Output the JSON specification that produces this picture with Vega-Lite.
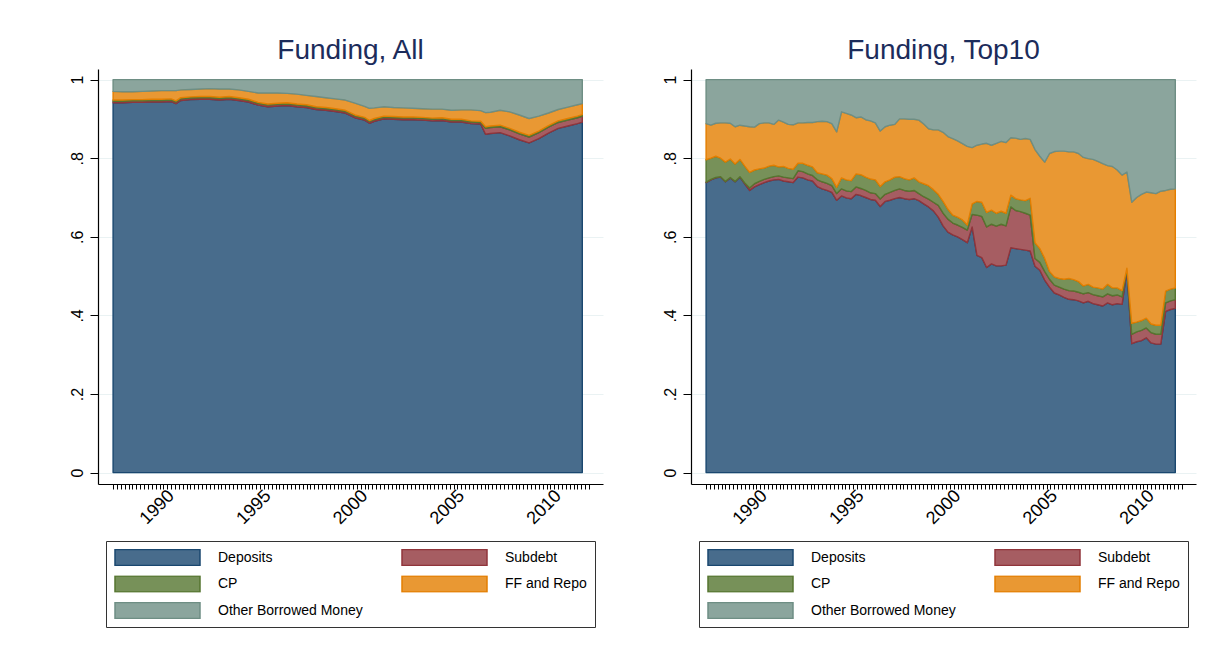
{
  "$schema": "https://vega.github.io/schema/vega-lite/v6.json",
  "background": "white",
  "padding": {"left": 69, "top": 37, "right": 20, "bottom": 10},
  "spacing": 59,
  "datasets": {
    "keys": [
      {"k": "d", "series": "Deposits", "rank": 1},
      {"k": "s", "series": "Subdebt", "rank": 2},
      {"k": "c", "series": "CP", "rank": 3},
      {"k": "f", "series": "FF and Repo", "rank": 4},
      {"k": "o", "series": "Other Borrowed Money", "rank": 5}
    ],
    "all": [
      {"t": 1987, "d": 0.941, "s": 0.004, "c": 0.003, "f": 0.022, "o": 0.030},
      {"t": 1987.5, "d": 0.941, "s": 0.004, "c": 0.003, "f": 0.021, "o": 0.031},
      {"t": 1988, "d": 0.942, "s": 0.004, "c": 0.003, "f": 0.020, "o": 0.031},
      {"t": 1988.5, "d": 0.942, "s": 0.004, "c": 0.003, "f": 0.021, "o": 0.030},
      {"t": 1989, "d": 0.943, "s": 0.004, "c": 0.003, "f": 0.021, "o": 0.029},
      {"t": 1989.5, "d": 0.943, "s": 0.004, "c": 0.003, "f": 0.022, "o": 0.028},
      {"t": 1990, "d": 0.944, "s": 0.004, "c": 0.003, "f": 0.021, "o": 0.028},
      {"t": 1990.25, "d": 0.939, "s": 0.004, "c": 0.003, "f": 0.026, "o": 0.028},
      {"t": 1990.5, "d": 0.947, "s": 0.004, "c": 0.003, "f": 0.020, "o": 0.026},
      {"t": 1991, "d": 0.949, "s": 0.004, "c": 0.003, "f": 0.019, "o": 0.025},
      {"t": 1991.5, "d": 0.950, "s": 0.004, "c": 0.003, "f": 0.019, "o": 0.024},
      {"t": 1992, "d": 0.950, "s": 0.004, "c": 0.003, "f": 0.020, "o": 0.023},
      {"t": 1992.5, "d": 0.948, "s": 0.004, "c": 0.003, "f": 0.021, "o": 0.024},
      {"t": 1993, "d": 0.950, "s": 0.004, "c": 0.003, "f": 0.019, "o": 0.024},
      {"t": 1993.5, "d": 0.947, "s": 0.004, "c": 0.003, "f": 0.020, "o": 0.026},
      {"t": 1994, "d": 0.943, "s": 0.004, "c": 0.003, "f": 0.020, "o": 0.030},
      {"t": 1994.5, "d": 0.935, "s": 0.004, "c": 0.003, "f": 0.024, "o": 0.034},
      {"t": 1995, "d": 0.931, "s": 0.004, "c": 0.003, "f": 0.028, "o": 0.034},
      {"t": 1995.5, "d": 0.933, "s": 0.004, "c": 0.003, "f": 0.026, "o": 0.034},
      {"t": 1996, "d": 0.934, "s": 0.004, "c": 0.003, "f": 0.024, "o": 0.035},
      {"t": 1996.5, "d": 0.931, "s": 0.004, "c": 0.003, "f": 0.025, "o": 0.037},
      {"t": 1997, "d": 0.929, "s": 0.004, "c": 0.003, "f": 0.024, "o": 0.040},
      {"t": 1997.5, "d": 0.924, "s": 0.004, "c": 0.003, "f": 0.026, "o": 0.043},
      {"t": 1998, "d": 0.922, "s": 0.004, "c": 0.003, "f": 0.025, "o": 0.046},
      {"t": 1998.5, "d": 0.919, "s": 0.004, "c": 0.003, "f": 0.025, "o": 0.049},
      {"t": 1999, "d": 0.915, "s": 0.004, "c": 0.003, "f": 0.026, "o": 0.052},
      {"t": 1999.5, "d": 0.903, "s": 0.004, "c": 0.003, "f": 0.030, "o": 0.060},
      {"t": 2000, "d": 0.897, "s": 0.004, "c": 0.003, "f": 0.028, "o": 0.068},
      {"t": 2000.25, "d": 0.889, "s": 0.004, "c": 0.003, "f": 0.031, "o": 0.073},
      {"t": 2000.5, "d": 0.894, "s": 0.004, "c": 0.003, "f": 0.027, "o": 0.072},
      {"t": 2001, "d": 0.900, "s": 0.004, "c": 0.003, "f": 0.024, "o": 0.069},
      {"t": 2001.5, "d": 0.899, "s": 0.004, "c": 0.003, "f": 0.023, "o": 0.071},
      {"t": 2002, "d": 0.898, "s": 0.004, "c": 0.003, "f": 0.023, "o": 0.072},
      {"t": 2002.5, "d": 0.898, "s": 0.004, "c": 0.003, "f": 0.022, "o": 0.073},
      {"t": 2003, "d": 0.897, "s": 0.004, "c": 0.003, "f": 0.022, "o": 0.074},
      {"t": 2003.5, "d": 0.895, "s": 0.004, "c": 0.003, "f": 0.023, "o": 0.075},
      {"t": 2004, "d": 0.896, "s": 0.004, "c": 0.003, "f": 0.022, "o": 0.075},
      {"t": 2004.5, "d": 0.892, "s": 0.004, "c": 0.003, "f": 0.023, "o": 0.078},
      {"t": 2005, "d": 0.892, "s": 0.004, "c": 0.003, "f": 0.024, "o": 0.077},
      {"t": 2005.5, "d": 0.888, "s": 0.004, "c": 0.003, "f": 0.028, "o": 0.077},
      {"t": 2006, "d": 0.887, "s": 0.004, "c": 0.003, "f": 0.027, "o": 0.079},
      {"t": 2006.25, "d": 0.861, "s": 0.015, "c": 0.004, "f": 0.036, "o": 0.084},
      {"t": 2006.5, "d": 0.863, "s": 0.015, "c": 0.004, "f": 0.035, "o": 0.083},
      {"t": 2007, "d": 0.865, "s": 0.015, "c": 0.004, "f": 0.038, "o": 0.078},
      {"t": 2007.5, "d": 0.857, "s": 0.015, "c": 0.004, "f": 0.042, "o": 0.082},
      {"t": 2008, "d": 0.847, "s": 0.015, "c": 0.004, "f": 0.044, "o": 0.090},
      {"t": 2008.5, "d": 0.839, "s": 0.015, "c": 0.004, "f": 0.043, "o": 0.099},
      {"t": 2009, "d": 0.850, "s": 0.015, "c": 0.004, "f": 0.038, "o": 0.093},
      {"t": 2009.5, "d": 0.864, "s": 0.015, "c": 0.004, "f": 0.032, "o": 0.085},
      {"t": 2010, "d": 0.876, "s": 0.015, "c": 0.004, "f": 0.029, "o": 0.076},
      {"t": 2010.5, "d": 0.882, "s": 0.015, "c": 0.004, "f": 0.029, "o": 0.070},
      {"t": 2011, "d": 0.888, "s": 0.015, "c": 0.004, "f": 0.029, "o": 0.064},
      {"t": 2011.25, "d": 0.892, "s": 0.015, "c": 0.004, "f": 0.028, "o": 0.061}
    ],
    "top": [
      {"t": 1987, "d": 0.738, "s": 0.001, "c": 0.057, "f": 0.092, "o": 0.112},
      {"t": 1987.25, "d": 0.745, "s": 0.001, "c": 0.054, "f": 0.084, "o": 0.116},
      {"t": 1987.5, "d": 0.750, "s": 0.001, "c": 0.054, "f": 0.084, "o": 0.111},
      {"t": 1987.75, "d": 0.752, "s": 0.001, "c": 0.047, "f": 0.090, "o": 0.110},
      {"t": 1988, "d": 0.740, "s": 0.001, "c": 0.049, "f": 0.100, "o": 0.110},
      {"t": 1988.25, "d": 0.750, "s": 0.001, "c": 0.047, "f": 0.091, "o": 0.111},
      {"t": 1988.5, "d": 0.740, "s": 0.001, "c": 0.044, "f": 0.095, "o": 0.120},
      {"t": 1988.75, "d": 0.752, "s": 0.001, "c": 0.044, "f": 0.087, "o": 0.116},
      {"t": 1989, "d": 0.735, "s": 0.002, "c": 0.043, "f": 0.102, "o": 0.118},
      {"t": 1989.25, "d": 0.718, "s": 0.006, "c": 0.040, "f": 0.116, "o": 0.120},
      {"t": 1989.5, "d": 0.727, "s": 0.008, "c": 0.035, "f": 0.109, "o": 0.121},
      {"t": 1989.75, "d": 0.733, "s": 0.008, "c": 0.032, "f": 0.115, "o": 0.112},
      {"t": 1990, "d": 0.738, "s": 0.008, "c": 0.029, "f": 0.115, "o": 0.110},
      {"t": 1990.25, "d": 0.742, "s": 0.008, "c": 0.030, "f": 0.110, "o": 0.110},
      {"t": 1990.5, "d": 0.745, "s": 0.008, "c": 0.029, "f": 0.104, "o": 0.114},
      {"t": 1990.75, "d": 0.746, "s": 0.009, "c": 0.023, "f": 0.119, "o": 0.103},
      {"t": 1991, "d": 0.742, "s": 0.010, "c": 0.027, "f": 0.113, "o": 0.108},
      {"t": 1991.25, "d": 0.740, "s": 0.010, "c": 0.024, "f": 0.112, "o": 0.114},
      {"t": 1991.5, "d": 0.738, "s": 0.010, "c": 0.024, "f": 0.113, "o": 0.115},
      {"t": 1991.75, "d": 0.752, "s": 0.016, "c": 0.019, "f": 0.103, "o": 0.110},
      {"t": 1992, "d": 0.750, "s": 0.016, "c": 0.021, "f": 0.103, "o": 0.110},
      {"t": 1992.25, "d": 0.745, "s": 0.015, "c": 0.022, "f": 0.109, "o": 0.109},
      {"t": 1992.5, "d": 0.742, "s": 0.014, "c": 0.022, "f": 0.113, "o": 0.109},
      {"t": 1992.75, "d": 0.728, "s": 0.017, "c": 0.018, "f": 0.130, "o": 0.107},
      {"t": 1993, "d": 0.722, "s": 0.018, "c": 0.020, "f": 0.134, "o": 0.106},
      {"t": 1993.25, "d": 0.718, "s": 0.018, "c": 0.021, "f": 0.136, "o": 0.107},
      {"t": 1993.5, "d": 0.713, "s": 0.017, "c": 0.018, "f": 0.140, "o": 0.112},
      {"t": 1993.75, "d": 0.693, "s": 0.017, "c": 0.016, "f": 0.141, "o": 0.133},
      {"t": 1994, "d": 0.704, "s": 0.018, "c": 0.028, "f": 0.168, "o": 0.082},
      {"t": 1994.25, "d": 0.699, "s": 0.018, "c": 0.028, "f": 0.169, "o": 0.086},
      {"t": 1994.5, "d": 0.697, "s": 0.018, "c": 0.028, "f": 0.167, "o": 0.090},
      {"t": 1994.75, "d": 0.708, "s": 0.019, "c": 0.033, "f": 0.143, "o": 0.097},
      {"t": 1995, "d": 0.705, "s": 0.018, "c": 0.035, "f": 0.147, "o": 0.095},
      {"t": 1995.25, "d": 0.700, "s": 0.018, "c": 0.034, "f": 0.146, "o": 0.102},
      {"t": 1995.5, "d": 0.695, "s": 0.017, "c": 0.035, "f": 0.148, "o": 0.105},
      {"t": 1995.75, "d": 0.693, "s": 0.017, "c": 0.035, "f": 0.145, "o": 0.110},
      {"t": 1996, "d": 0.677, "s": 0.019, "c": 0.032, "f": 0.141, "o": 0.131},
      {"t": 1996.25, "d": 0.690, "s": 0.018, "c": 0.032, "f": 0.140, "o": 0.120},
      {"t": 1996.5, "d": 0.693, "s": 0.020, "c": 0.032, "f": 0.139, "o": 0.116},
      {"t": 1996.75, "d": 0.697, "s": 0.021, "c": 0.034, "f": 0.134, "o": 0.114},
      {"t": 1997, "d": 0.700, "s": 0.022, "c": 0.031, "f": 0.147, "o": 0.100},
      {"t": 1997.25, "d": 0.697, "s": 0.021, "c": 0.030, "f": 0.152, "o": 0.100},
      {"t": 1997.5, "d": 0.695, "s": 0.021, "c": 0.029, "f": 0.154, "o": 0.101},
      {"t": 1997.75, "d": 0.697, "s": 0.021, "c": 0.032, "f": 0.149, "o": 0.101},
      {"t": 1998, "d": 0.692, "s": 0.018, "c": 0.030, "f": 0.157, "o": 0.103},
      {"t": 1998.25, "d": 0.684, "s": 0.018, "c": 0.033, "f": 0.152, "o": 0.113},
      {"t": 1998.5, "d": 0.676, "s": 0.020, "c": 0.034, "f": 0.145, "o": 0.125},
      {"t": 1998.75, "d": 0.666, "s": 0.022, "c": 0.032, "f": 0.152, "o": 0.128},
      {"t": 1999, "d": 0.650, "s": 0.030, "c": 0.028, "f": 0.164, "o": 0.128},
      {"t": 1999.25, "d": 0.628, "s": 0.032, "c": 0.030, "f": 0.176, "o": 0.134},
      {"t": 1999.5, "d": 0.612, "s": 0.033, "c": 0.025, "f": 0.185, "o": 0.145},
      {"t": 1999.75, "d": 0.605, "s": 0.030, "c": 0.020, "f": 0.195, "o": 0.150},
      {"t": 2000, "d": 0.600, "s": 0.030, "c": 0.020, "f": 0.194, "o": 0.156},
      {"t": 2000.25, "d": 0.593, "s": 0.031, "c": 0.019, "f": 0.194, "o": 0.163},
      {"t": 2000.5, "d": 0.585, "s": 0.032, "c": 0.013, "f": 0.200, "o": 0.170},
      {"t": 2000.75, "d": 0.625, "s": 0.032, "c": 0.027, "f": 0.143, "o": 0.173},
      {"t": 2001, "d": 0.553, "s": 0.102, "c": 0.035, "f": 0.143, "o": 0.167},
      {"t": 2001.25, "d": 0.547, "s": 0.105, "c": 0.036, "f": 0.148, "o": 0.164},
      {"t": 2001.5, "d": 0.522, "s": 0.103, "c": 0.037, "f": 0.176, "o": 0.162},
      {"t": 2001.75, "d": 0.531, "s": 0.101, "c": 0.036, "f": 0.165, "o": 0.167},
      {"t": 2002, "d": 0.526, "s": 0.101, "c": 0.033, "f": 0.178, "o": 0.162},
      {"t": 2002.25, "d": 0.526, "s": 0.106, "c": 0.033, "f": 0.178, "o": 0.157},
      {"t": 2002.5, "d": 0.528, "s": 0.100, "c": 0.032, "f": 0.180, "o": 0.160},
      {"t": 2002.75, "d": 0.572, "s": 0.104, "c": 0.030, "f": 0.146, "o": 0.148},
      {"t": 2003, "d": 0.570, "s": 0.097, "c": 0.030, "f": 0.154, "o": 0.149},
      {"t": 2003.25, "d": 0.568, "s": 0.096, "c": 0.030, "f": 0.154, "o": 0.152},
      {"t": 2003.5, "d": 0.566, "s": 0.094, "c": 0.032, "f": 0.158, "o": 0.150},
      {"t": 2003.75, "d": 0.564, "s": 0.091, "c": 0.043, "f": 0.150, "o": 0.152},
      {"t": 2004, "d": 0.525, "s": 0.020, "c": 0.040, "f": 0.237, "o": 0.178},
      {"t": 2004.25, "d": 0.515, "s": 0.020, "c": 0.035, "f": 0.235, "o": 0.195},
      {"t": 2004.5, "d": 0.490, "s": 0.022, "c": 0.033, "f": 0.245, "o": 0.210},
      {"t": 2004.75, "d": 0.472, "s": 0.020, "c": 0.020, "f": 0.300, "o": 0.188},
      {"t": 2005, "d": 0.457, "s": 0.020, "c": 0.021, "f": 0.319, "o": 0.183},
      {"t": 2005.25, "d": 0.452, "s": 0.020, "c": 0.022, "f": 0.324, "o": 0.182},
      {"t": 2005.5, "d": 0.446, "s": 0.021, "c": 0.025, "f": 0.326, "o": 0.182},
      {"t": 2005.75, "d": 0.441, "s": 0.022, "c": 0.031, "f": 0.322, "o": 0.184},
      {"t": 2006, "d": 0.440, "s": 0.022, "c": 0.029, "f": 0.325, "o": 0.184},
      {"t": 2006.25, "d": 0.437, "s": 0.022, "c": 0.027, "f": 0.326, "o": 0.188},
      {"t": 2006.5, "d": 0.432, "s": 0.023, "c": 0.020, "f": 0.327, "o": 0.198},
      {"t": 2006.75, "d": 0.436, "s": 0.022, "c": 0.021, "f": 0.320, "o": 0.201},
      {"t": 2007, "d": 0.430, "s": 0.023, "c": 0.019, "f": 0.325, "o": 0.203},
      {"t": 2007.25, "d": 0.427, "s": 0.023, "c": 0.020, "f": 0.322, "o": 0.208},
      {"t": 2007.5, "d": 0.424, "s": 0.023, "c": 0.020, "f": 0.319, "o": 0.214},
      {"t": 2007.75, "d": 0.432, "s": 0.023, "c": 0.024, "f": 0.302, "o": 0.219},
      {"t": 2008, "d": 0.427, "s": 0.023, "c": 0.020, "f": 0.309, "o": 0.221},
      {"t": 2008.25, "d": 0.430, "s": 0.022, "c": 0.018, "f": 0.300, "o": 0.230},
      {"t": 2008.5, "d": 0.428, "s": 0.019, "c": 0.016, "f": 0.294, "o": 0.243},
      {"t": 2008.75, "d": 0.515, "s": 0.002, "c": 0.003, "f": 0.245, "o": 0.235},
      {"t": 2009, "d": 0.328, "s": 0.024, "c": 0.028, "f": 0.308, "o": 0.312},
      {"t": 2009.25, "d": 0.333, "s": 0.025, "c": 0.025, "f": 0.317, "o": 0.300},
      {"t": 2009.5, "d": 0.336, "s": 0.026, "c": 0.025, "f": 0.321, "o": 0.292},
      {"t": 2009.75, "d": 0.343, "s": 0.025, "c": 0.025, "f": 0.321, "o": 0.286},
      {"t": 2010, "d": 0.330, "s": 0.026, "c": 0.022, "f": 0.334, "o": 0.288},
      {"t": 2010.25, "d": 0.327, "s": 0.025, "c": 0.023, "f": 0.335, "o": 0.290},
      {"t": 2010.5, "d": 0.327, "s": 0.025, "c": 0.023, "f": 0.341, "o": 0.284},
      {"t": 2010.75, "d": 0.410, "s": 0.022, "c": 0.030, "f": 0.256, "o": 0.282},
      {"t": 2011, "d": 0.415, "s": 0.022, "c": 0.030, "f": 0.254, "o": 0.279},
      {"t": 2011.25, "d": 0.418, "s": 0.022, "c": 0.030, "f": 0.252, "o": 0.278}
    ]
  },
  "config": {
    "view": {"stroke": null},
    "font": "Liberation Sans",
    "axis": {
      "labelFont": "Liberation Sans",
      "labelColor": "#000000",
      "domainColor": "#000000",
      "domainWidth": 1.2,
      "tickColor": "#000000",
      "tickWidth": 1,
      "title": null,
      "gridColor": "#EAF2F3",
      "gridWidth": 1
    },
    "legend": {
      "layout": {"bottom": {"anchor": "middle"}}
    },
    "title": {
      "font": "Liberation Sans",
      "fontSize": 28,
      "fontWeight": "normal",
      "color": "#1C2C5B",
      "anchor": "middle",
      "offset": 4
    }
  },
  "resolve": {"legend": {"fill": "independent", "stroke": "independent"}},
  "hconcat": [
    {
      "title": "Funding, All",
      "width": 505,
      "height": 415,
      "data": {"name": "all"},
      "transform": [
        {"fold": ["d", "s", "c", "f", "o"], "as": ["k", "share"]},
        {"lookup": "k", "from": {"data": {"name": "keys"}, "key": "k", "fields": ["series", "rank"]}}
      ],
      "mark": {"type": "area", "strokeWidth": 1.4, "fillOpacity": 1, "strokeJoin": "round"},
      "encoding": {
        "x": {
          "field": "t", "type": "quantitative",
          "scale": {"domain": [1986.22, 2012.32], "nice": false, "zero": false},
          "axis": {
            "grid": false, "tickSize": 5, "labelAngle": -45, "labelAlign": "right", "labelBaseline": "middle", "labelFontSize": 18, "labelOverlap": false, "labelBound": false, "labelPadding": 4,
            "labelExpr": "datum.value % 5 == 0 ? format(datum.value, 'd') : ''",
            "values": [1987,1987.2,1987.4,1987.6,1987.8,1988,1988.2,1988.4,1988.6,1988.8,1989,1989.2,1989.4,1989.6,1989.8,1990,1990.2,1990.4,1990.6,1990.8,1991,1991.2,1991.4,1991.6,1991.8,1992,1992.2,1992.4,1992.6,1992.8,1993,1993.2,1993.4,1993.6,1993.8,1994,1994.2,1994.4,1994.6,1994.8,1995,1995.2,1995.4,1995.6,1995.8,1996,1996.2,1996.4,1996.6,1996.8,1997,1997.2,1997.4,1997.6,1997.8,1998,1998.2,1998.4,1998.6,1998.8,1999,1999.2,1999.4,1999.6,1999.8,2000,2000.2,2000.4,2000.6,2000.8,2001,2001.2,2001.4,2001.6,2001.8,2002,2002.2,2002.4,2002.6,2002.8,2003,2003.2,2003.4,2003.6,2003.8,2004,2004.2,2004.4,2004.6,2004.8,2005,2005.2,2005.4,2005.6,2005.8,2006,2006.2,2006.4,2006.6,2006.8,2007,2007.2,2007.4,2007.6,2007.8,2008,2008.2,2008.4,2008.6,2008.8,2009,2009.2,2009.4,2009.6,2009.8,2010,2010.2,2010.4,2010.6,2010.8,2011,2011.2,2011.4,2011.6]
          }
        },
        "y": {
          "field": "share", "type": "quantitative", "stack": "zero",
          "scale": {"domain": [-0.029, 1.027], "nice": false, "zero": false},
          "axis": {
            "grid": true, "values": [0, 0.2, 0.4, 0.6, 0.8, 1], "tickSize": 8, "labelPadding": 5,
            "labelAngle": 270, "labelAlign": "center", "labelBaseline": "bottom", "labelFontSize": 16,
            "labelExpr": "datum.value == 0 ? '0' : (datum.value == 1 ? '1' : '.' + format(datum.value * 10, 'd'))"
          }
        },
        "fill": {
          "field": "series", "type": "nominal",
          "scale": {"domain": ["Deposits", "Subdebt", "CP", "FF and Repo", "Other Borrowed Money"], "range": ["#486C8C", "#A65D62", "#779159", "#E99833", "#8BA59D"]},
          "legend": {
            "title": null, "orient": "bottom", "direction": "horizontal", "columns": 2,
            "symbolType": "M-1,-0.19L1,-0.19L1,0.19L-1,0.19Z", "symbolSize": 7225, "symbolStrokeWidth": 1.5, "clipHeight": 17,
            "rowPadding": 9.5, "columnPadding": 38, "labelFont": "Liberation Sans", "labelFontSize": 14, "labelColor": "#000000",
            "labelOffset": 17, "labelLimit": 300, "padding": 8, "strokeColor": "#333333", "fillColor": "white", "offset": 13
          }
        },
        "stroke": {
          "field": "series", "type": "nominal",
          "scale": {"domain": ["Deposits", "Subdebt", "CP", "FF and Repo", "Other Borrowed Money"], "range": ["#1A476F", "#90353B", "#55752F", "#E37E00", "#6E8E84"]},
          "legend": {
            "title": null, "orient": "bottom", "direction": "horizontal", "columns": 2,
            "symbolType": "M-1,-0.19L1,-0.19L1,0.19L-1,0.19Z", "symbolSize": 7225, "symbolStrokeWidth": 1.5, "clipHeight": 17,
            "rowPadding": 9.5, "columnPadding": 38, "labelFont": "Liberation Sans", "labelFontSize": 14, "labelColor": "#000000",
            "labelOffset": 17, "labelLimit": 300, "padding": 8, "strokeColor": "#333333", "fillColor": "white", "offset": 13
          }
        },
        "order": {"field": "rank", "type": "quantitative"}
      }
    },
    {
      "title": "Funding, Top10",
      "width": 505,
      "height": 415,
      "data": {"name": "top"},
      "transform": [
        {"fold": ["d", "s", "c", "f", "o"], "as": ["k", "share"]},
        {"lookup": "k", "from": {"data": {"name": "keys"}, "key": "k", "fields": ["series", "rank"]}}
      ],
      "mark": {"type": "area", "strokeWidth": 1.4, "fillOpacity": 1, "strokeJoin": "round"},
      "encoding": {
        "x": {
          "field": "t", "type": "quantitative",
          "scale": {"domain": [1986.22, 2012.32], "nice": false, "zero": false},
          "axis": {
            "grid": false, "tickSize": 5, "labelAngle": -45, "labelAlign": "right", "labelBaseline": "middle", "labelFontSize": 18, "labelOverlap": false, "labelBound": false, "labelPadding": 4,
            "labelExpr": "datum.value % 5 == 0 ? format(datum.value, 'd') : ''",
            "values": [1987,1987.2,1987.4,1987.6,1987.8,1988,1988.2,1988.4,1988.6,1988.8,1989,1989.2,1989.4,1989.6,1989.8,1990,1990.2,1990.4,1990.6,1990.8,1991,1991.2,1991.4,1991.6,1991.8,1992,1992.2,1992.4,1992.6,1992.8,1993,1993.2,1993.4,1993.6,1993.8,1994,1994.2,1994.4,1994.6,1994.8,1995,1995.2,1995.4,1995.6,1995.8,1996,1996.2,1996.4,1996.6,1996.8,1997,1997.2,1997.4,1997.6,1997.8,1998,1998.2,1998.4,1998.6,1998.8,1999,1999.2,1999.4,1999.6,1999.8,2000,2000.2,2000.4,2000.6,2000.8,2001,2001.2,2001.4,2001.6,2001.8,2002,2002.2,2002.4,2002.6,2002.8,2003,2003.2,2003.4,2003.6,2003.8,2004,2004.2,2004.4,2004.6,2004.8,2005,2005.2,2005.4,2005.6,2005.8,2006,2006.2,2006.4,2006.6,2006.8,2007,2007.2,2007.4,2007.6,2007.8,2008,2008.2,2008.4,2008.6,2008.8,2009,2009.2,2009.4,2009.6,2009.8,2010,2010.2,2010.4,2010.6,2010.8,2011,2011.2,2011.4,2011.6]
          }
        },
        "y": {
          "field": "share", "type": "quantitative", "stack": "zero",
          "scale": {"domain": [-0.029, 1.027], "nice": false, "zero": false},
          "axis": {
            "grid": true, "values": [0, 0.2, 0.4, 0.6, 0.8, 1], "tickSize": 8, "labelPadding": 5,
            "labelAngle": 270, "labelAlign": "center", "labelBaseline": "bottom", "labelFontSize": 16,
            "labelExpr": "datum.value == 0 ? '0' : (datum.value == 1 ? '1' : '.' + format(datum.value * 10, 'd'))"
          }
        },
        "fill": {
          "field": "series", "type": "nominal",
          "scale": {"domain": ["Deposits", "Subdebt", "CP", "FF and Repo", "Other Borrowed Money"], "range": ["#486C8C", "#A65D62", "#779159", "#E99833", "#8BA59D"]},
          "legend": {
            "title": null, "orient": "bottom", "direction": "horizontal", "columns": 2,
            "symbolType": "M-1,-0.19L1,-0.19L1,0.19L-1,0.19Z", "symbolSize": 7225, "symbolStrokeWidth": 1.5, "clipHeight": 17,
            "rowPadding": 9.5, "columnPadding": 38, "labelFont": "Liberation Sans", "labelFontSize": 14, "labelColor": "#000000",
            "labelOffset": 17, "labelLimit": 300, "padding": 8, "strokeColor": "#333333", "fillColor": "white", "offset": 13
          }
        },
        "stroke": {
          "field": "series", "type": "nominal",
          "scale": {"domain": ["Deposits", "Subdebt", "CP", "FF and Repo", "Other Borrowed Money"], "range": ["#1A476F", "#90353B", "#55752F", "#E37E00", "#6E8E84"]},
          "legend": {
            "title": null, "orient": "bottom", "direction": "horizontal", "columns": 2,
            "symbolType": "M-1,-0.19L1,-0.19L1,0.19L-1,0.19Z", "symbolSize": 7225, "symbolStrokeWidth": 1.5, "clipHeight": 17,
            "rowPadding": 9.5, "columnPadding": 38, "labelFont": "Liberation Sans", "labelFontSize": 14, "labelColor": "#000000",
            "labelOffset": 17, "labelLimit": 300, "padding": 8, "strokeColor": "#333333", "fillColor": "white", "offset": 13
          }
        },
        "order": {"field": "rank", "type": "quantitative"}
      }
    }
  ]
}
